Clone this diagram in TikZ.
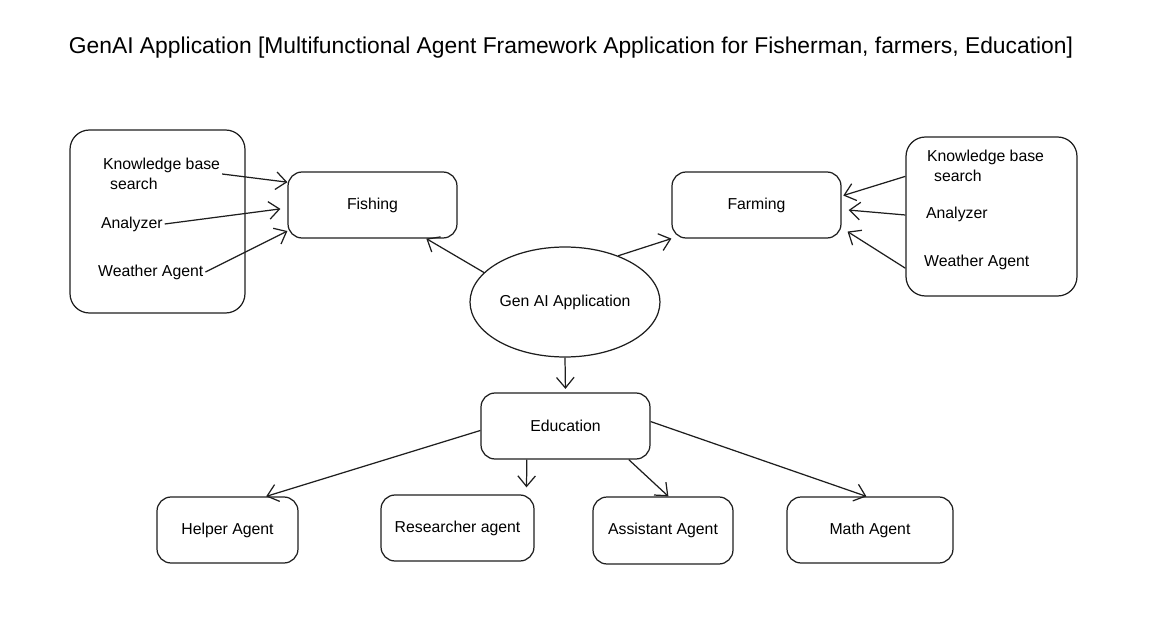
\documentclass[tikz,border=0pt]{standalone}
\usepackage{fontspec}
\setmainfont{Liberation Sans}
\usetikzlibrary{arrows.meta,shapes.geometric}
\definecolor{ink}{HTML}{1E1E1E}
\begin{document}
\begin{tikzpicture}[x=0.02cm,y=-0.02cm,
                ink line/.style={draw=ink,line width=0.7pt},
                box/.style={ink line,rounded corners=8pt,minimum height=1.32cm,inner sep=0pt,font=\fontsize{9}{11}\selectfont},
                panel/.style={ink line,rounded corners=11pt,inner sep=0pt},
                lbl/.style={anchor=west,inner sep=1pt,align=left,font=\fontsize{9}{11}\selectfont},
                arr/.style={ink line,-{Straight Barb[length=6pt,width=10pt]}}]
                \useasboundingbox (0,0) rectangle (1154,632);
                \node[font=\fontsize{13}{15}\selectfont] (title) at (571,48) {GenAI Application [Multifunctional Agent Framework Application for Fisherman, farmers, Education]};
                \node[panel,minimum width=3.5cm,minimum height=3.66cm] (leftpanel) at (157.5,221.5) {};
                \node[panel,minimum width=3.42cm,minimum height=3.18cm] (rightpanel) at (991.5,216.5) {};
                \node[box,minimum width=3.38cm] (fish) at (372.5,205) {Fishing};
                \node[box,minimum width=3.38cm] (farm) at (756.5,205) {Farming};
                \node[box,minimum width=3.38cm] (edu) at (565.5,426) {Education};
                \node[ink line,ellipse,minimum width=3.8cm,minimum height=2.2cm,inner sep=0pt,font=\fontsize{9}{11}\selectfont] (genai) at (565,302) {Gen AI Application};
                \node[box,minimum width=2.82cm] (helper) at (227.5,530) {Helper Agent};
                \node[box,minimum width=3.06cm] (research) at (457.5,528) {Researcher agent};
                \node[box,minimum width=2.80cm,minimum height=1.34cm] (assist) at (663,530.5) {Assistant Agent};
                \node[box,minimum width=3.32cm] (math) at (870,530) {Math Agent};
                \node[lbl] (kbL) at (101,174) {Knowledge base\\\hspace{4pt}search};
                \node[lbl] (anL) at (99,224) {Analyzer};
                \node[lbl] (waL) at (96,272) {Weather Agent};
                \node[lbl] (kbR) at (925,166) {Knowledge base\\\hspace{4pt}search};
                \node[lbl] (anR) at (924,214) {Analyzer};
                \node[lbl] (waR) at (922,262) {Weather Agent};
                \draw[arr] (kbL.east) -- (fish.165);
                \draw[arr,shorten >=4pt] (anL.east) -- (fish.182);
                \draw[arr] (waL.east) -- (fish.197);
                \draw[arr,shorten >=1pt] (rightpanel.155) -- (farm.6);
                \draw[arr,shorten >=4pt] (rightpanel.179) -- (farm.357);
                \draw[arr,shorten >=4pt] (rightpanel.211) -- (farm.345);
                \draw[arr] (genai.160) -- (fish.328);
                \draw[arr] (genai.41) -- (farm.south west);
                \draw[arr,shorten >=2pt] (genai.south) -- (edu.north);
                \draw[arr] (edu.183) -- (helper.41);
                \draw[arr,shorten >=4pt] (edu.221) -- (research.26);
                \draw[arr] (edu.332) -- (assist.81);
                \draw[arr] (edu.3) -- (math.96);
            \end{tikzpicture}
\end{document}
